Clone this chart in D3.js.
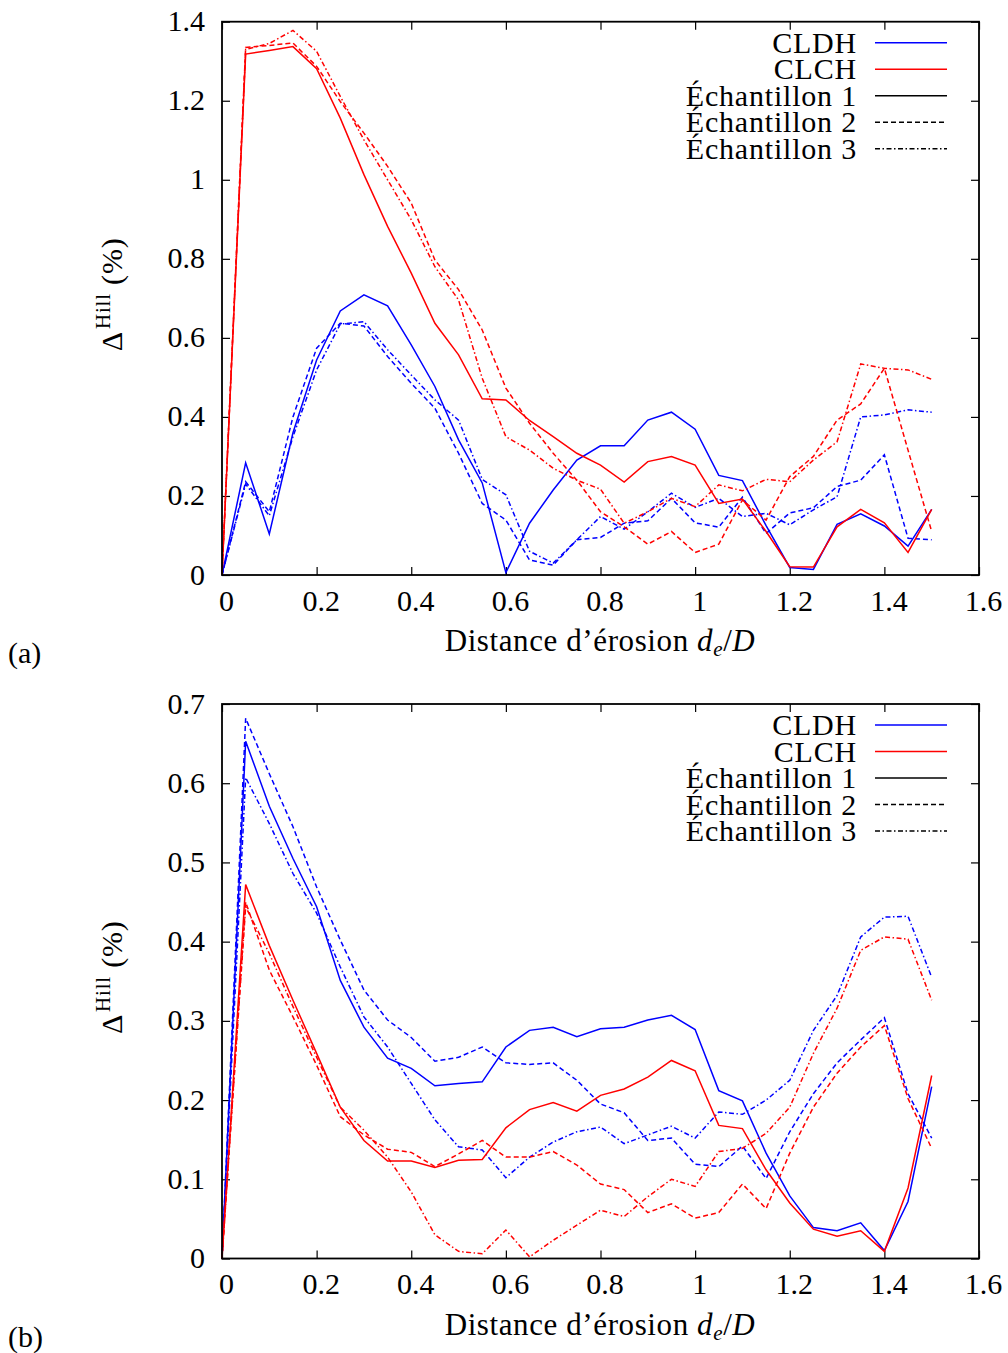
<!DOCTYPE html>
<html><head><meta charset="utf-8">
<script src="https://cdn.jsdelivr.net/npm/d3@7"></script>
<style>
html,body{margin:0;padding:0;background:#fff;}
text{font-family:"Liberation Serif","Times New Roman",serif;fill:#000;}
</style>
</head><body>
<svg id="chart" width="1008" height="1353"></svg>
<script>
// ---------- data ----------
const xValues = [0,0.05,0.1,0.15,0.2,0.25,0.3,0.35,0.4,0.45,0.5,0.55,0.6,0.65,0.7,0.75,0.8,0.85,0.9,0.95,1.0,1.05,1.1,1.15,1.2,1.25,1.3,1.35,1.4,1.45,1.5];

// panel (a)
const cldhA1 = [0,0.284,0.104,0.36,0.544,0.668,0.709,0.681,0.582,0.477,0.342,0.233,0.006,0.131,0.215,0.291,0.327,0.327,0.392,0.412,0.369,0.252,0.239,0.125,0.019,0.014,0.128,0.155,0.124,0.073,0.166];
const cldhA2 = [0,0.236,0.16,0.40,0.574,0.637,0.630,0.553,0.485,0.422,0.308,0.181,0.139,0.038,0.025,0.089,0.095,0.131,0.137,0.194,0.132,0.121,0.197,0.105,0.157,0.17,0.224,0.24,0.304,0.093,0.089];
const cldhA3 = [0,0.23,0.15,0.35,0.519,0.635,0.641,0.57,0.506,0.443,0.392,0.242,0.203,0.06,0.03,0.089,0.148,0.116,0.16,0.207,0.171,0.194,0.148,0.156,0.127,0.165,0.198,0.40,0.405,0.418,0.412];
const clchA1 = [0,1.318,1.327,1.337,1.281,1.156,1.013,0.882,0.764,0.637,0.557,0.446,0.443,0.391,0.35,0.308,0.278,0.235,0.287,0.30,0.278,0.181,0.192,0.11,0.021,0.02,0.122,0.166,0.132,0.057,0.166];
const clchA2 = [0,1.335,1.34,1.346,1.287,1.198,1.118,1.034,0.941,0.797,0.722,0.62,0.473,0.384,0.308,0.24,0.16,0.122,0.078,0.11,0.057,0.078,0.19,0.139,0.249,0.30,0.392,0.433,0.523,0.316,0.11];
const clchA3 = [0,1.33,1.345,1.378,1.325,1.211,1.101,1.0,0.899,0.78,0.696,0.498,0.35,0.316,0.27,0.24,0.217,0.131,0.16,0.194,0.173,0.228,0.213,0.242,0.236,0.291,0.337,0.534,0.523,0.519,0.495];

// panel (b)
const cldhB1 = [0,0.653,0.571,0.505,0.444,0.351,0.292,0.253,0.24,0.218,0.221,0.223,0.267,0.288,0.292,0.28,0.29,0.292,0.301,0.307,0.289,0.212,0.199,0.133,0.079,0.039,0.035,0.045,0.01,0.072,0.217];
const cldhB2 = [0,0.682,0.612,0.545,0.469,0.402,0.339,0.301,0.279,0.249,0.254,0.267,0.247,0.245,0.247,0.225,0.195,0.184,0.149,0.152,0.119,0.116,0.142,0.101,0.16,0.208,0.247,0.276,0.304,0.208,0.152];
const cldhB3 = [0,0.607,0.549,0.486,0.436,0.368,0.305,0.267,0.221,0.175,0.141,0.137,0.102,0.128,0.147,0.16,0.166,0.145,0.156,0.167,0.152,0.185,0.182,0.2,0.225,0.288,0.332,0.406,0.431,0.432,0.355];
const clchB1 = [0,0.472,0.395,0.326,0.259,0.191,0.149,0.123,0.123,0.115,0.124,0.125,0.165,0.188,0.197,0.186,0.206,0.214,0.229,0.25,0.237,0.168,0.164,0.112,0.07,0.037,0.028,0.035,0.009,0.089,0.231];
const clchB2 = [0,0.45,0.364,0.305,0.244,0.179,0.156,0.138,0.134,0.116,0.132,0.149,0.128,0.128,0.135,0.118,0.094,0.087,0.058,0.069,0.051,0.058,0.094,0.063,0.133,0.191,0.234,0.267,0.294,0.202,0.139];
const clchB3 = [0,0.444,0.385,0.318,0.254,0.191,0.162,0.128,0.084,0.03,0.009,0.006,0.036,0.002,0.023,0.042,0.061,0.053,0.078,0.1,0.091,0.135,0.139,0.158,0.191,0.259,0.316,0.389,0.406,0.403,0.326];

const xTicks = [0,0.2,0.4,0.6,0.8,1,1.2,1.4,1.6];
const yTicksA = [0,0.2,0.4,0.6,0.8,1,1.2,1.4];
const yTicksB = [0,0.1,0.2,0.3,0.4,0.5,0.6,0.7];
const methodLabels = ["CLDH","CLCH"];
const sampleLabels = ["Échantillon 1","Échantillon 2","Échantillon 3"];
const panelLabels = ["(a)","(b)"];

// ---------- styles ----------
const colors = {CLDH:"#0000ff", CLCH:"#ff0000"};
const dashes = ["none","5,3","5,2.5,1.5,2.5"];

const svg = d3.select("#chart");
const left = 222, right = 979;

const panels = [
  {top:21.7, bottom:575, yMax:1.4, yTicks:yTicksA, label:panelLabels[0],
   series:[["CLDH",0,cldhA1],["CLDH",1,cldhA2],["CLDH",2,cldhA3],["CLCH",0,clchA1],["CLCH",1,clchA2],["CLCH",2,clchA3]]},
  {top:704, bottom:1258.5, yMax:0.7, yTicks:yTicksB, label:panelLabels[1],
   series:[["CLDH",0,cldhB1],["CLDH",1,cldhB2],["CLDH",2,cldhB3],["CLCH",0,clchB1],["CLCH",1,clchB2],["CLCH",2,clchB3]]}
];

const fs = 30;
panels.forEach(p => {
  const x = d3.scaleLinear().domain([0,1.6]).range([left,right]);
  const y = d3.scaleLinear().domain([0,p.yMax]).range([p.bottom,p.top]);
  const g = svg.append("g");
  const tl = 8;

  const fmt = d => String(+d.toFixed(2));
  const axB = d3.axisBottom(x).tickValues(xTicks).tickSize(-tl).tickFormat(fmt).tickPadding(14);
  const axT = d3.axisTop(x).tickValues(xTicks).tickSize(-tl).tickFormat("");
  const axL = d3.axisLeft(y).tickValues(p.yTicks).tickSize(-tl).tickFormat(fmt).tickPadding(17);
  const axR = d3.axisRight(y).tickValues(p.yTicks).tickSize(-tl).tickFormat("");
  const gb = g.append("g").attr("transform",`translate(0,${p.bottom})`).call(axB);
  const gt = g.append("g").attr("transform",`translate(0,${p.top})`).call(axT);
  const gl = g.append("g").attr("transform",`translate(${left},0)`).call(axL);
  const gr = g.append("g").attr("transform",`translate(${right},0)`).call(axR);
  [gb,gt,gl,gr].forEach(a => {
    a.attr("font-family",null);
    a.select(".domain").remove();
    a.selectAll(".tick line").attr("stroke","#000").attr("stroke-width",1.2);
    a.selectAll("text").style("font-family",'"Liberation Serif",serif').style("font-size",fs+"px").attr("fill","#000");
  });
  gb.selectAll(".tick text").attr("dx",4).attr("dy","0.72em");
  gl.selectAll(".tick text").attr("dy","0.3em");

  // data lines
  const line = d3.line().x((d,i)=>x(xValues[i])).y(d=>y(d));
  p.series.forEach(([m,s,vals]) => {
    g.append("path").datum(vals).attr("d",line)
      .attr("fill","none").attr("stroke",colors[m]).attr("stroke-width",1.5)
      .attr("stroke-dasharray",dashes[s]).attr("stroke-linejoin","miter");
  });

  // frame
  g.append("rect").attr("x",left).attr("y",p.top).attr("width",right-left).attr("height",p.bottom-p.top)
    .attr("fill","none").attr("stroke","#000").attr("stroke-width",1.8);

  // legend
  const legItems = [
    {t:methodLabels[0], c:colors.CLDH, d:"none"},
    {t:methodLabels[1], c:colors.CLCH, d:"none"},
    {t:sampleLabels[0], c:"#000", d:dashes[0]},
    {t:sampleLabels[1], c:"#000", d:dashes[1]},
    {t:sampleLabels[2], c:"#000", d:dashes[2]}
  ];
  legItems.forEach((it,i) => {
    const ly = p.top + 21 + i*26.5;
    g.append("text").attr("x",857).attr("y",ly+10).attr("text-anchor","end")
      .style("font-size",fs+"px").style("letter-spacing","0.8px").text(it.t);
    g.append("line").attr("x1",875).attr("x2",947).attr("y1",ly).attr("y2",ly)
      .attr("stroke",it.c).attr("stroke-width",1.5).attr("stroke-dasharray",it.d);
  });

  // x title
  const xt = g.append("text").attr("x",600).attr("y",p.bottom+76).attr("text-anchor","middle")
    .style("font-size","31px").style("letter-spacing","0.6px");
  xt.append("tspan").text("Distance d’érosion ");
  xt.append("tspan").style("font-style","italic").text("d");
  xt.append("tspan").style("font-style","italic").style("font-size","21px").attr("dy",5).text("e");
  xt.append("tspan").attr("dy",-5).text("/");
  xt.append("tspan").style("font-style","italic").text("D");

  // y title
  const cy = (p.top+p.bottom)/2 - 4;
  const yt = g.append("text").attr("transform",`translate(122,${cy}) rotate(-90)`).attr("text-anchor","middle")
    .style("font-size",fs+"px").style("letter-spacing","0.8px");
  yt.append("tspan").text("Δ");
  yt.append("tspan").style("font-size","21px").attr("dy",-12).attr("dx",2).text("Hill");
  yt.append("tspan").attr("dy",12).text(" (%)");

  // panel label
  g.append("text").attr("x",8).attr("y",p.bottom+88).style("font-size",fs+"px").text(p.label);
});
</script>
</body></html>
